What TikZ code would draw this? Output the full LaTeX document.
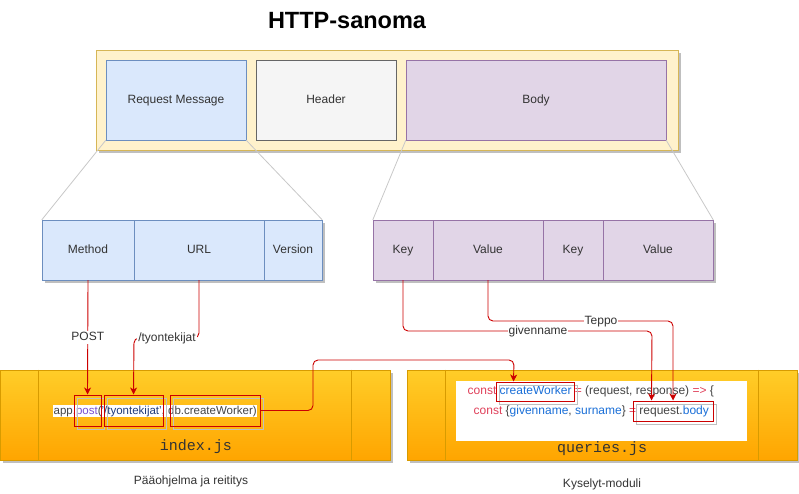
\documentclass[tikz,border=0pt]{standalone}
\usepackage{fontspec}
\setmainfont{Liberation Sans}
\newfontfamily\monofont{Liberation Mono}
\usetikzlibrary{shadows,arrows.meta,calc}
\definecolor{txt}{HTML}{333333}
\definecolor{bluefill}{HTML}{DAE8FC}
\definecolor{blueline}{HTML}{6C8EBF}
\definecolor{grayfill}{HTML}{F5F5F5}
\definecolor{grayline}{HTML}{666666}
\definecolor{purfill}{HTML}{E1D5E7}
\definecolor{purline}{HTML}{9673A6}
\definecolor{yelfill}{HTML}{FFF2CC}
\definecolor{yelline}{HTML}{D6B656}
\definecolor{orgtop}{HTML}{FFCD28}
\definecolor{orgbot}{HTML}{FFA500}
\definecolor{orgline}{HTML}{D79B00}
\definecolor{redc}{HTML}{CC0000}
\definecolor{zoomline}{HTML}{C8C8C8}
\definecolor{cdark}{HTML}{444444}
\definecolor{cred}{HTML}{E0405A}
\definecolor{cblue}{HTML}{1A6FD8}
\definecolor{cpurple}{HTML}{7A4FD0}
\definecolor{cnavy}{HTML}{1F3A7A}
\begin{document}
\begin{tikzpicture}[x=1pt,y=-1pt,
  lbl/.style={font=\fontsize{12}{14}\selectfont, text=txt, text height=8.6pt, text depth=2.4pt},
  cell/.style={draw, rectangle, inner sep=0pt, lbl},
  shad/.style={drop shadow={shadow xshift=3pt, shadow yshift=-3pt, fill=black, opacity=0.25}},
  bluecell/.style={cell, fill=bluefill, draw=blueline},
  purcell/.style={cell, fill=purfill, draw=purline},
  zoomln/.style={draw=zoomline, line width=0.8pt},
  orgbox/.style={draw=orgline, top color=orgtop, bottom color=orgbot, rectangle, inner sep=0pt, minimum width=390, minimum height=90, line width=0.8pt},
  redbox/.style={draw=redc, line width=1pt, rectangle, inner sep=0pt},
  redarrow/.style={draw=redc, line width=0.9pt, rounded corners=5pt, -{Stealth[length=7pt,width=7pt,inset=2pt]}},
  wlabel/.style={fill=white, inner sep=1pt, font=\fontsize{12}{14}\selectfont, text=txt, text height=8.6pt, text depth=2.4pt},
  code/.style={inner sep=0.5pt, anchor=west, text height=8.6pt, text depth=2.4pt},
  ghost/.style={draw=black!25, line width=0.8pt}
]
\useasboundingbox (0,0) rectangle (799,494);

% title
\node[font=\fontsize{23.5}{26}\selectfont\bfseries] (title) at (347,21) {HTTP-sanoma};

% top container
\node[cell, shad, fill=yelfill, draw=yelline, minimum width=582, minimum height=100] (outer) at (387,100) {};
\node[bluecell, minimum width=140, minimum height=80] (req) at (176,100) {Request Message};
\node[cell, fill=grayfill, draw=grayline, minimum width=140, minimum height=80] (hdr) at (326,100) {Header};
\node[purcell, minimum width=260, minimum height=80] (body) at (536,100) {Body};

% request line parts
\node[bluecell, shad, minimum width=92, minimum height=60] (method) at (88,250) {Method};
\node[bluecell, shad, minimum width=130, minimum height=60] (url) at (199,250) {URL};
\node[bluecell, shad, minimum width=58, minimum height=60] (version) at (293,250) {Version};

% body parts
\node[purcell, shad, minimum width=60, minimum height=60] (key1) at (403,250) {Key};
\node[purcell, shad, minimum width=110, minimum height=60] (val1) at (488,250) {Value};
\node[purcell, shad, minimum width=60, minimum height=60] (key2) at (573,250) {Key};
\node[purcell, shad, minimum width=110, minimum height=60] (val2) at (658,250) {Value};

% zoom lines
\draw[zoomln] (req.south west) -- (method.north west);
\draw[zoomln] (req.south east) -- (version.north east);
\draw[zoomln] (body.south west) -- (key1.north west);
\draw[zoomln] (body.south east) -- (val2.north east);

% bottom modules
\node[orgbox, shad] (idx) at (195,415) {};
\draw[draw=orgline, line width=0.8pt] ([xshift=39]idx.north west) -- ([xshift=39]idx.south west);
\draw[draw=orgline, line width=0.8pt] ([xshift=-39]idx.north east) -- ([xshift=-39]idx.south east);
\node[font=\fontsize{15}{17}\selectfont\monofont, text=txt] (idxlbl) at (196,447) {index.js};

\node[orgbox, shad] (qry) at (602,415) {};
\draw[draw=orgline, line width=0.8pt] ([xshift=39]qry.north west) -- ([xshift=39]qry.south west);
\draw[draw=orgline, line width=0.8pt] ([xshift=-39]qry.north east) -- ([xshift=-39]qry.south east);
\node[fill=white, rectangle, inner sep=0pt, minimum width=291, minimum height=60] (codebg) at (601.5,411) {};
\node[font=\fontsize{15}{17}\selectfont\monofont, text=txt] (qrylbl) at (602,449) {queries.js};

% code in index.js
\node[code, fill=white, font=\fontsize{11.5}{14}\selectfont] (idxcode) at (53,411) {\textcolor{cdark}{app.}\textcolor{cpurple}{post}\textcolor{cdark}{(}\textcolor{cnavy}{'/tyontekijat'}\textcolor{cdark}{, db.createWorker)}};

% code in queries.js
\node[code, font=\fontsize{12}{14}\selectfont] (q1) at (467,391) {\textcolor{cred}{const}\ \textcolor{cblue}{createWorker}\ \textcolor{cred}{=}\ \textcolor{cdark}{(request, response)}\ \textcolor{cred}{=>}\ \textcolor{cdark}{\{}};
\node[code, font=\fontsize{12}{14}\selectfont] (q2) at (473,411) {\textcolor{cred}{const}\ \textcolor{cdark}{\{}\textcolor{cblue}{givenname}\textcolor{cdark}{,}\ \textcolor{cblue}{surname}\textcolor{cdark}{\}}\ \textcolor{cred}{=}\ \textcolor{cdark}{request.}\textcolor{cblue}{body}};

% highlight boxes (ghost outlines first)
\draw[ghost] (77,398) rectangle (104,429);
\draw[ghost] (107,398) rectangle (166,429);
\draw[ghost] (173,398) rectangle (263,429);
\draw[ghost] (499,385) rectangle (577,404);
\draw[ghost] (636,404) rectangle (716,424);
\node[redbox, minimum width=27, minimum height=31] (rpost) at (87.5,410.5) {};
\node[redbox, minimum width=59, minimum height=31] (rurl) at (133.5,410.5) {};
\node[redbox, minimum width=90, minimum height=31] (rcw) at (215,410.5) {};
\node[redbox, minimum width=78, minimum height=19] (rcw2) at (535,391.5) {};
\node[redbox, minimum width=80, minimum height=20] (rbody) at (673,411) {};

\coordinate (cwin) at ([xshift=18]rcw2.north west);
\coordinate (gnin) at ([xshift=19]rbody.north west);

% red connectors
\draw[redarrow] (method.south) -- node[wlabel, pos=0.5] {POST} (rpost.north);
\draw[redarrow] (url.south) |- (134,338) -- (rurl.north);
\node[wlabel] (urllbl) at (167,338) {/tyontekijat};
\draw[redarrow] (rcw.east) -- (313,410.5) |- (514,360) -- (cwin);
\draw[redarrow] (key1.south) |- (652,331) -- (gnin);
\node[wlabel] (gnlbl) at (538,331) {givenname};
\draw[redarrow] (val1.south) |- (673,321) -- (rbody.north);
\node[wlabel] (teplbl) at (601,321) {Teppo};

% captions
\node[lbl] (cap1) at (191,481) {Pääohjelma ja reititys};
\node[lbl] (cap2) at (602,484) {Kyselyt-moduli};
\end{tikzpicture}
\end{document}
